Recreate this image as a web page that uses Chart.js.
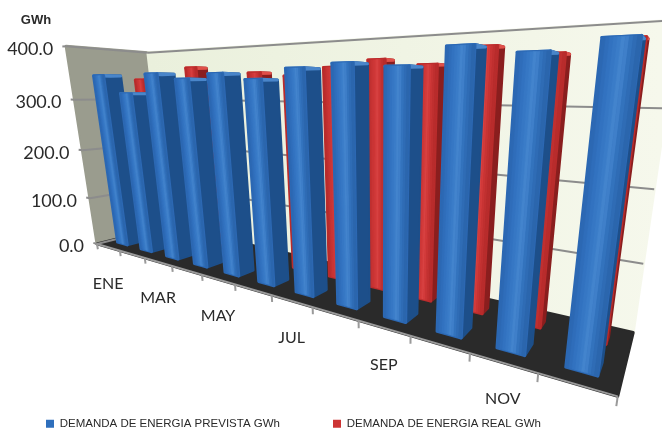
<!DOCTYPE html>
<html>
<head>
<meta charset="utf-8">
<style>
    html, body { margin: 0; padding: 0; background: #fff; }
    canvas { display: block; }
</style>
<script src="https://cdn.jsdelivr.net/npm/chart.js@4/dist/chart.umd.js"></script>
</head>
<body>
<canvas id="chart" width="662" height="430"></canvas>
<script>
const MONTHS = ['ENE', 'FEB', 'MAR', 'ABR', 'MAY', 'JUN', 'JUL', 'AGO', 'SEP', 'OCT', 'NOV', 'DIC'];
const PREVISTA = [346, 312, 347, 337, 345, 335, 350, 355, 349, 370, 360, 371];
const REAL = [340, 305, 361, 333, 349, 343, 355, 364, 355, 376, 364, 378];
const SERIES_NAMES = ['DEMANDA DE ENERGIA PREVISTA GWh', 'DEMANDA DE ENERGIA REAL GWh'];
const Y_MAX = 400;
const Y_STEP = 100;

// where the box corners of the 3D scene fall on the picture: [u, depth, v, px, py]
const ANCHORS = [
    [0, 0, 0, 97, 243], [1, 0, 0, 618, 397],
    [0, 1, 0, 168, 227], [1, 1, 0, 633, 332],
    [0, 0, 1, 66, 47], [0, 1, 1, 148, 52], [1, 1, 1, 679, 20]
];
const DEPTHS = [[0.18, 0.38], [0.68, 0.82]];
const FACES = [
    {
        strips: ['#2c68b3', '#2f6dba', '#3272c0', '#3677c4', '#3a7cc8', '#4384cd', '#3f7fc9', '#3373bd', '#2f6cb5', '#2b66ad'],
        side: '#1d4f8a',
        top: '#4a86ca'
    },
    {
        strips: ['#b92c2c', '#c03030', '#c83434', '#cc3636', '#d23a3a', '#d84242', '#d23a3a', '#c83434', '#c03030', '#b82c2c'],
        side: '#8a1e1e',
        top: '#e0504a'
    }
];

function fitCamera(points) {
    const rows = [];
    points.forEach(([u, d, v, px, py]) => {
        rows.push([u, d, v, 1, 0, 0, 0, 0, -px * u, -px * d, -px * v, px]);
        rows.push([0, 0, 0, 0, u, d, v, 1, -py * u, -py * d, -py * v, py]);
    });
    const n = 11;
    const a = [];
    for (let i = 0; i < n; i++) {
        a.push([]);
        for (let j = 0; j <= n; j++) {
            a[i].push(rows.reduce((sum, r) => sum + r[i] * r[j], 0));
        }
    }
    for (let i = 0; i < n; i++) {
        let best = i;
        for (let k = i + 1; k < n; k++) {
            if (Math.abs(a[k][i]) > Math.abs(a[best][i])) best = k;
        }
        [a[i], a[best]] = [a[best], a[i]];
        for (let k = 0; k < n; k++) {
            if (k === i) continue;
            const f = a[k][i] / a[i][i];
            for (let j = i; j <= n; j++) a[k][j] -= f * a[i][j];
        }
    }
    return a.map((row, i) => row[n] / row[i]);
}

const cam = fitCamera(ANCHORS);

function project(u, d, v) {
    const w = cam[8] * u + cam[9] * d + cam[10] * v + 1;
    return [
        (cam[0] * u + cam[1] * d + cam[2] * v + cam[3]) / w,
        (cam[4] * u + cam[5] * d + cam[6] * v + cam[7]) / w
    ];
}

function polygon(ctx, pts, fill, edge = 3) {
    ctx.beginPath();
    pts.forEach((p, i) => i ? ctx.lineTo(p[0], p[1]) : ctx.moveTo(p[0], p[1]));
    ctx.closePath();
    ctx.fillStyle = fill;
    ctx.strokeStyle = fill;
    ctx.lineWidth = edge;
    ctx.lineJoin = 'round';
    ctx.stroke();
    ctx.fill();
}

function segment(ctx, a, b, color, width) {
    ctx.beginPath();
    ctx.moveTo(a[0], a[1]);
    ctx.lineTo(b[0], b[1]);
    ctx.strokeStyle = color;
    ctx.lineWidth = width;
    ctx.stroke();
}

class CylinderBar extends Chart.BarElement {
    draw(ctx) {
        const area = this.plotArea;
        const u0 = (this.x - this.width / 2 - area.left) / area.width;
        const u1 = (this.x + this.width / 2 - area.left) / area.width;
        const v = (this.base - this.y) / area.height;
        const [d0, d1] = DEPTHS[this.seriesIndex];
        const look = FACES[this.seriesIndex];

        ctx.save();
        polygon(ctx, [project(u1, d0, 0), project(u1, d1, 0), project(u1, d1, v), project(u1, d0, v)], look.side);
        polygon(ctx, [project(u0, d0, v), project(u1, d0, v), project(u1, d1, v), project(u0, d1, v)], look.top);
        polygon(ctx, [project(u0, d0, 0), project(u1, d0, 0), project(u1, d0, v), project(u0, d0, v)], look.strips[0]);
        look.strips.forEach((color, i) => {
            const a = u0 + (u1 - u0) * i / look.strips.length;
            const b = u0 + (u1 - u0) * (i + 1) / look.strips.length;
            polygon(ctx, [project(a, d0, 0), project(b, d0, 0), project(b, d0, v), project(a, d0, v)], color, 0.6);
        });
        ctx.restore();
    }
}
CylinderBar.id = 'cylinderBar';
CylinderBar.defaults = Chart.BarElement.defaults;
CylinderBar.defaultRoutes = Chart.BarElement.defaultRoutes;

class CylinderController extends Chart.BarController {
    updateElements(bars, start, count, mode) {
        super.updateElements(bars, start, count, mode);
        bars.forEach((bar) => {
            bar.seriesIndex = this.index;
            bar.plotArea = this.chart.chartArea;
        });
    }
}
CylinderController.id = 'cylinder';
CylinderController.defaults = Object.assign({}, Chart.BarController.defaults, { dataElementType: 'cylinderBar' });
CylinderController.overrides = Chart.BarController.overrides;

Chart.register(CylinderBar, CylinderController);

const scenePlugin = {
    id: 'scene',
    beforeDraw(chart) {
        // keep the legend rows low on the page, clear of the floor
        const padding = chart.options.plugins.legend.labels.padding;
        chart.legend.left = 46 - padding;
        chart.legend.top = 418 - padding;
    },
    beforeDatasetsDraw(chart) {
        const { ctx, chartArea: area } = chart;
        const xScale = chart.scales.x;
        const yScale = chart.scales.y;
        const level = (t) => (yScale.bottom - yScale.getPixelForValue(t.value)) / yScale.height;
        const along = (value) => (xScale.getPixelForValue(value) - area.left) / area.width;

        ctx.save();

        // left wall, back wall, floor
        polygon(ctx, [project(0, 0, 0), project(0, 1, 0), project(0, 1, 1), project(0, 0, 1)], '#9a9c8e');
        const wall = ctx.createLinearGradient(150, 0, 660, 0);
        wall.addColorStop(0, '#eaf0dc');
        wall.addColorStop(1, '#f6f8ec');
        polygon(ctx, [project(0, 1, 0), project(1, 1, 0), project(1, 1, 1), project(0, 1, 1)], wall);
        polygon(ctx, [project(0, 0, 0), project(1, 0, 0), project(1, 1, 0), project(0, 1, 0)], '#2a2a2a');

        // grid lines on both walls
        yScale.ticks.forEach((t) => {
            const v = level(t);
            segment(ctx, project(-0.014, 0, v), project(0, 0, v), '#8c8c8c', 2);
            segment(ctx, project(0, 0, v), project(0, 1, v), '#8c8c8c', 2);
            if (v > 0) segment(ctx, project(0, 1, v), project(1, 1, v), '#8c8c8c', 2);
        });

        // front edge of the floor and its ticks
        segment(ctx, project(0, 0, 0), project(1, 0, 0), '#9a9a9a', 2);
        segment(ctx, project(0, 0, 0), project(0, 0, -0.03), '#9a9a9a', 2);
        xScale.ticks.forEach((t, i) => {
            const u = (i + 1) / xScale.ticks.length;
            segment(ctx, project(u, 0, 0), project(u, 0, -0.03), '#9a9a9a', 2);
        });

        // axis text
        ctx.textBaseline = 'middle';
        ctx.fillStyle = '#2a2a2a';
        ctx.font = '18px Lato';
        ctx.textAlign = 'right';
        yScale.ticks.forEach((t) => {
            const p = project(0, 0, level(t));
            ctx.fillText(t.label, p[0] - 13, p[1] + 2.5);
        });
        ctx.font = '16px Lato';
        ctx.textAlign = 'center';
        xScale.ticks.forEach((t, i) => {
            if (i % 2) return;
            const p = project(along(t.value), 0, 0);
            ctx.fillText(t.label, p[0], p[1] + 36.5);
        });
        ctx.font = 'bold 13px "Liberation Sans"';
        ctx.fillText('GWh', 36, 20);

        ctx.restore();
    }
};

new Chart(document.getElementById('chart'), {
    type: 'cylinder',
    data: {
        labels: MONTHS,
        datasets: [
            { label: SERIES_NAMES[0], data: PREVISTA, backgroundColor: '#2f6fbc', clip: false },
            { label: SERIES_NAMES[1], data: REAL, backgroundColor: '#cc3434', clip: false, barPercentage: 0.36 }
        ]
    },
    options: {
        responsive: false,
        animation: false,
        grouped: false,
        categoryPercentage: 1,
        barPercentage: 0.42,
        scales: {
            x: { display: false, ticks: { autoSkip: false } },
            y: {
                display: false,
                min: 0,
                max: Y_MAX,
                ticks: { stepSize: Y_STEP, callback: (value) => value.toFixed(1) }
            }
        },
        plugins: {
            tooltip: { enabled: false },
            legend: {
                position: 'bottom',
                align: 'start',
                labels: {
                    boxWidth: 8,
                    boxHeight: 8,
                    padding: 53,
                    color: '#2a2a2a',
                    font: { family: 'Liberation Sans', size: 11.5 }
                }
            }
        }
    },
    plugins: [scenePlugin]
});
</script>
</body>
</html>
